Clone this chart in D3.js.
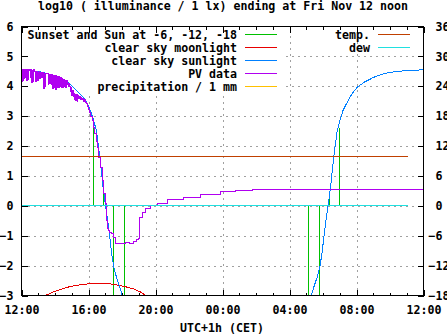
<!DOCTYPE html>
<html>
<head>
<meta charset="utf-8">
<script src="https://cdn.jsdelivr.net/npm/d3@7"></script>
<style>
html,body{margin:0;padding:0;background:#fff;overflow:hidden;}
text{font-family:"DejaVu Sans Mono",monospace;font-weight:bold;font-size:11.6px;fill:#000;}
</style>
</head>
<body>
<svg id="chart" width="447" height="335"></svg>
<script>
// ---- data ----
const title = "log10 ( illuminance / 1 lx) ending at Fri Nov 12 noon";
const xTitle = "UTC+1h (CET)";
const majorHours = [0, 4, 8, 12, 16, 20, 24];
const majorLabels = ["12:00", "16:00", "20:00", "00:00", "04:00", "08:00", "12:00"];
const minorHours = d3.range(0, 25, 1);
const gridHours = [4, 8, 12, 16, 20];
const leftTicks = [-3, -2, -1, 0, 1, 2, 3, 4, 5, 6];
const gridLeft = [-2, -1, 0, 1, 2, 3, 4, 5];
const rightTicks = [-18, -12, -6, 0, 6, 12, 18, 24, 30, 36];

// sunset / sun at -6, -12, -18 (hours after 12:00, log10 lx)
const sunEventHours = [4.32, 4.92, 5.51, 6.17, 17.15, 17.81, 18.39, 19.0];
const sunEventValues = [2.6, 0.45, -3, -3, -3, -3, 0.35, 2.6];

// clear sky moonlight
const moonHours = [1.3, 1.43, 1.9, 2.33, 2.9, 3.72, 4.5, 5.31, 5.9, 6.3, 6.7, 7.1, 7.4, 7.5];
const moonValues = [-3.05, -3.0, -2.88, -2.8, -2.7, -2.62, -2.6, -2.61, -2.67, -2.72, -2.78, -2.88, -3.0, -3.05];

// clear sky sunlight (evening part, then morning part)
const sunEveHours = [0, 0.5, 1.13, 1.5, 1.93, 2.25, 2.53, 2.75, 2.93, 3.13, 3.33, 3.55, 3.72, 3.92, 4.1, 4.28, 4.47, 4.68, 4.87, 5.03, 5.17, 5.27, 5.37, 5.51, 5.67, 5.87, 6.02, 6.2];
const sunEveValues = [4.53, 4.52, 4.48, 4.43, 4.34, 4.28, 4.22, 4.13, 4.05, 3.95, 3.83, 3.71, 3.61, 3.44, 3.2, 2.91, 2.52, 1.63, 0.62, -0.05, -0.6, -1.05, -1.55, -2.05, -2.39, -2.72, -3.0, -3.3];
const sunMornHours = [17.1, 17.3, 17.45, 17.65, 17.81, 17.95, 18.05, 18.15, 18.29, 18.45, 18.64, 18.85, 19.04, 19.2, 19.44, 19.7, 20.04, 20.5, 21.03, 21.5, 22.03, 23.0, 24.0];
const sunMornValues = [-3.3, -3.0, -2.72, -2.39, -2.05, -1.55, -1.05, -0.6, -0.05, 0.62, 1.63, 2.52, 2.91, 3.2, 3.46, 3.72, 3.97, 4.15, 4.30, 4.40, 4.47, 4.53, 4.55];

// PV data
const pvHours = [0.00, 0.03, 0.06, 0.09, 0.12, 0.15, 0.18, 0.22, 0.26, 0.30, 0.33, 0.40, 0.43, 0.50, 0.56, 0.58, 0.62, 0.66, 0.70, 0.73, 0.80, 0.84, 0.87, 0.90, 0.93, 0.96, 0.99, 1.03, 1.06, 1.10, 1.14, 1.20, 1.24, 1.33, 1.36, 1.40, 1.45, 1.52, 1.61, 1.64, 1.68, 1.72, 1.78, 1.83, 1.86, 1.90, 1.94, 1.98, 2.02, 2.06, 2.10, 2.13, 2.17, 2.20, 2.24, 2.28, 2.32, 2.36, 2.40, 2.43, 2.47, 2.51, 2.55, 2.59, 2.63, 2.67, 2.73, 2.78, 2.82, 2.88, 2.93, 2.97, 3.01, 3.05, 3.09, 3.13, 3.17, 3.21, 3.25, 3.29, 3.33, 3.37, 3.42, 3.46, 3.50, 3.55, 3.60, 3.66, 3.72, 3.78, 3.84, 3.90, 3.94, 4.02, 4.08, 4.14, 4.22, 4.30, 4.38, 4.46, 4.52, 4.61, 4.72, 4.82, 4.91, 5.01, 5.07, 5.12, 5.18, 5.25, 5.35, 5.47, 5.51, 5.61, 5.71, 6.0, 6.21, 6.45, 6.70, 6.85, 7.00, 7.06, 7.21, 7.40, 7.70, 8.10, 8.70, 9.69, 10.69, 11.88, 12.8, 13.8, 24.0];
const pvValues = [4.55, 4.17, 4.55, 4.20, 4.54, 4.25, 4.55, 4.30, 4.55, 4.20, 4.55, 4.22, 4.54, 4.56, 4.30, 4.55, 4.11, 4.54, 4.15, 4.55, 4.50, 4.17, 4.48, 4.20, 4.50, 4.18, 4.47, 4.30, 4.48, 4.25, 4.46, 4.28, 4.46, 3.92, 4.44, 3.98, 4.44, 4.42, 4.06, 4.40, 4.10, 4.40, 4.06, 4.38, 3.92, 4.37, 3.95, 4.36, 3.90, 4.35, 3.98, 4.33, 3.95, 4.32, 3.97, 4.30, 4.00, 4.30, 3.95, 4.25, 3.96, 4.22, 4.00, 4.20, 3.96, 4.18, 4.05, 3.98, 4.08, 4.00, 3.83, 3.95, 3.70, 3.85, 3.67, 3.76, 3.55, 3.74, 3.52, 3.72, 3.50, 3.70, 3.58, 3.67, 3.55, 3.64, 3.56, 3.60, 3.48, 3.55, 3.45, 3.42, 3.33, 3.22, 3.12, 3.00, 2.86, 2.62, 2.42, 2.15, 1.96, 1.63, 1.29, 0.85, 0.40, 0.07, -0.49, -0.75, -0.83, -0.88, -0.92, -0.93, -1.05, -1.26, -1.27, -1.25, -1.22, -1.25, -1.18, -1.12, -1.10, -0.38, -0.21, -0.10, 0.01, 0.07, 0.20, 0.29, 0.38, 0.48, 0.52, 0.545, 0.545];

// temperature / dew point (right axis, deg C)
const tempHours = [0, 23.1];
const tempValues = [10, 10];
const dewHours = [0, 23.1];
const dewValues = [0, 0];

const legendLeft = ["Sunset and Sun at -6, -12, -18", "clear sky moonlight", "clear sky sunlight", "PV data", "precipitation / 1 mm"];
const legendLeftColors = ["#00c000", "#e80000", "#0080ff", "#b000f0", "#ffc000"];
const legendRight = ["temp.", "dew"];
const legendRightColors = ["#c04000", "#20e0e0"];

// ---- drawing ----
const svg = d3.select("#chart").attr("shape-rendering", "crispEdges");
const L = 21.5, R = 423.5, T = 26.5, B = 295.5;
const x = d3.scaleLinear().domain([0, 24]).range([L, R]);
const y = d3.scaleLinear().domain([-3, 6]).range([B, T]);
const y2 = d3.scaleLinear().domain([-18, 36]).range([B, T]);

// grid
const gridStyle = g => {
  g.select(".domain").remove();
  g.selectAll(".tick text").remove();
  g.selectAll(".tick line").attr("stroke", "#a0a0a0").attr("stroke-dasharray", "2,4");
};
svg.append("g").attr("transform", `translate(0,${B})`)
  .call(d3.axisBottom(x).tickValues(gridHours).tickSize(-(B - T)).tickFormat(""))
  .call(gridStyle);
svg.append("g").attr("transform", `translate(${L},0)`)
  .call(d3.axisLeft(y).tickValues(gridLeft).tickSize(-(R - L)).tickFormat(""))
  .call(gridStyle);

// opaque key background
svg.append("rect").attr("x", 22).attr("y", 27).attr("width", 260).attr("height", 65).attr("fill", "#fff");

// data
const plot = svg.append("g").attr("clip-path", "url(#clip)");
svg.append("clipPath").attr("id", "clip").append("rect")
  .attr("x", L).attr("y", T).attr("width", R - L).attr("height", B - T);

plot.selectAll("line.evt").data(sunEventHours).enter().append("line")
  .attr("x1", d => x(d)).attr("x2", d => x(d))
  .attr("y1", y(0)).attr("y2", (d, i) => y(sunEventValues[i]))
  .attr("stroke", legendLeftColors[0]).attr("stroke-width", 1);

const lineOf = (hs, vs, sc, curve) => d3.line().x((d, i) => x(hs[i])).y((d, i) => sc(vs[i])).curve(curve || d3.curveLinear)(hs);

plot.append("path").attr("d", lineOf(moonHours, moonValues, y))
  .attr("fill", "none").attr("stroke", legendLeftColors[1]);
plot.append("path").attr("d", lineOf(sunEveHours, sunEveValues, y))
  .attr("fill", "none").attr("stroke", legendLeftColors[2]);
plot.append("path").attr("d", lineOf(sunMornHours, sunMornValues, y))
  .attr("fill", "none").attr("stroke", legendLeftColors[2]);
plot.append("path").attr("d", lineOf(pvHours, pvValues, y, d3.curveStepAfter))
  .attr("fill", "none").attr("stroke", legendLeftColors[3]);
plot.append("path").attr("d", lineOf(tempHours, tempValues, y2))
  .attr("fill", "none").attr("stroke", legendRightColors[0]);
plot.append("path").attr("d", lineOf(dewHours, dewValues, y2))
  .attr("fill", "none").attr("stroke", legendRightColors[1]);

// axes
const axisStyle = g => { g.select(".domain").remove(); g.selectAll(".tick line").attr("stroke", "#000"); };
svg.append("g").attr("transform", `translate(0,${B})`)
  .call(d3.axisBottom(x).tickValues(minorHours).tickSize(-3).tickFormat("")).call(axisStyle);
svg.append("g").attr("transform", `translate(0,${T})`)
  .call(d3.axisTop(x).tickValues(minorHours).tickSize(-3).tickFormat("")).call(axisStyle);
svg.append("g").attr("transform", `translate(0,${T})`)
  .call(d3.axisTop(x).tickValues(majorHours).tickSize(-6).tickFormat("")).call(axisStyle);
const xAxis = svg.append("g").attr("transform", `translate(0,${B})`)
  .call(d3.axisBottom(x).tickValues(majorHours).tickSize(-6).tickPadding(10)
    .tickFormat((d, i) => majorLabels[i])).call(axisStyle);
xAxis.attr("font-family", null).attr("font-size", null);
const yAxis = svg.append("g").attr("transform", `translate(${L},0)`)
  .call(d3.axisLeft(y).tickValues(leftTicks).tickSize(-6).tickPadding(8).tickFormat(d3.format("d"))).call(axisStyle);
yAxis.attr("font-family", null).attr("font-size", null);
const y2Axis = svg.append("g").attr("transform", `translate(${R},0)`)
  .call(d3.axisRight(y2).tickValues(rightTicks).tickSize(-6).tickPadding(5)
    .tickFormat(d => (d >= 0 ? "\u00a0" : "") + d3.format("d")(d))).call(axisStyle);
y2Axis.attr("font-family", null).attr("font-size", null);
svg.selectAll(".tick text").attr("fill", "#000");

// frame
svg.append("rect").attr("x", L).attr("y", T).attr("width", R - L).attr("height", B - T)
  .attr("fill", "none").attr("stroke", "#000");

// titles
svg.append("text").attr("x", 223).attr("y", 10).attr("text-anchor", "middle").text(title);
svg.append("text").attr("x", 222).attr("y", 332).attr("text-anchor", "middle").text(xTitle);

// legends
legendLeft.forEach((t, i) => {
  const ly = 34.5 + i * 13;
  svg.append("text").attr("x", 237).attr("y", ly).attr("dy", "0.36em").attr("text-anchor", "end").text(t);
  svg.append("line").attr("x1", 245).attr("x2", 277).attr("y1", ly).attr("y2", ly).attr("stroke", legendLeftColors[i]);
});
legendRight.forEach((t, i) => {
  const ly = 34.5 + i * 13;
  svg.append("text").attr("x", 370).attr("y", ly).attr("dy", "0.36em").attr("text-anchor", "end").text(t);
  svg.append("line").attr("x1", 378).attr("x2", 410).attr("y1", ly).attr("y2", ly).attr("stroke", legendRightColors[i]);
});
</script>
</body>
</html>
